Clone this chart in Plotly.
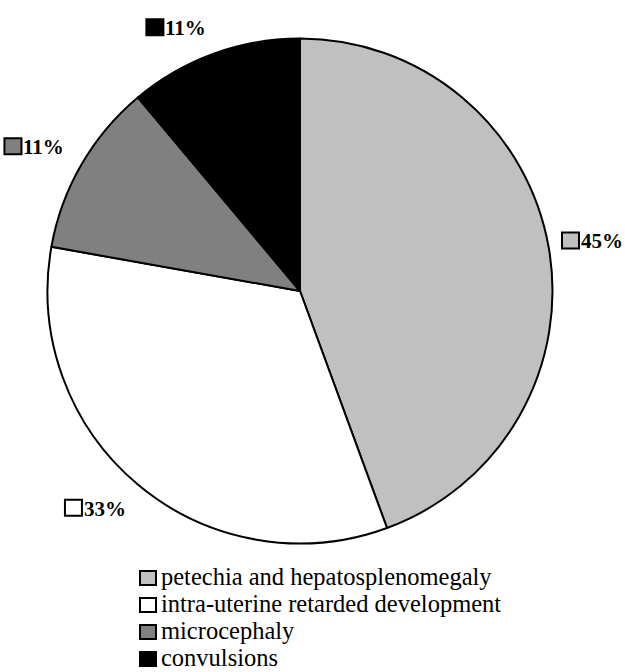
import math
import plotly.graph_objects as go

# ---- data ----
categories = ["petechia and hepatosplenomegaly",
              "intra-uterine retarded development",
              "microcephaly",
              "convulsions"]
values = [44.4, 33.4, 11.1, 11.1]          # slice sizes
label_texts = ["45%", "33%", "11%", "11%"]  # percentages as printed
colors = ["#C0C0C0", "#FFFFFF", "#808080", "#000000"]

W, H = 625, 672
CX, CY, R = 300, 291, 252.5   # pie centre / radius in px

def px(x):
    return x / W

def py(y):
    return 1 - y / H

FONT = "Liberation Serif"

fig = go.Figure()
fig.add_trace(go.Pie(
    labels=categories,
    values=values,
    sort=False,
    direction="clockwise",
    rotation=0,
    marker=dict(colors=colors, line=dict(color="#000000", width=2)),
    textinfo="none",
    hoverinfo="skip",
    showlegend=False,
    domain=dict(x=[px(CX - R), px(CX + R)], y=[py(CY + R), py(CY - R)]),
))

shapes = []
annotations = []

# ---- outside percentage labels: box corner anchored on the slice mid-angle ----
total = sum(values)
cum = 0.0
LW, LH = 61, 18
SQ_W, SQ_H = 17, 16
RT = 271
for v, txt, col in zip(values, label_texts, colors):
    mid = (cum + v / 2) / total * 2 * math.pi
    cum += v
    ux, uy = math.sin(mid), -math.cos(mid)
    fy = min(1.0, 2 * abs(uy))
    lx = CX + RT * ux + math.copysign(LW / 2, ux)
    ly = CY + RT * uy + math.copysign(LH / 2, uy) * fy
    # keep the label inside the chart area
    lx = min(max(lx, LW / 2 + 2), W - LW / 2 - 2)
    ly = min(max(ly, LH / 2 + 4), H - LH / 2 - 4)
    left = lx - LW / 2
    shapes.append(dict(type="rect", xref="paper", yref="paper",
                       x0=px(left), x1=px(left + SQ_W),
                       y0=py(ly + SQ_H / 2), y1=py(ly - SQ_H / 2),
                       fillcolor=col, line=dict(color="#000000", width=2)))
    annotations.append(dict(text="<b>" + txt + "</b>", xref="paper", yref="paper",
                            x=px(left + SQ_W + 1), y=py(ly + 1),
                            xanchor="left", yanchor="middle", showarrow=False,
                            borderpad=0,
                            font=dict(family=FONT, size=21, color="#000000")))

# ---- legend (drawn manually, squares adjacent to text) ----
LEG_X = 140
LEG_Y0 = 578
LEG_DY = 27
for i, (name, col) in enumerate(zip(categories, colors)):
    yc = LEG_Y0 + i * LEG_DY
    shapes.append(dict(type="rect", xref="paper", yref="paper",
                       x0=px(LEG_X), x1=px(LEG_X + 16),
                       y0=py(yc + 7), y1=py(yc - 7),
                       fillcolor=col, line=dict(color="#000000", width=2)))
    annotations.append(dict(text=name, xref="paper", yref="paper",
                            x=px(LEG_X + 20), y=py(yc - 2),
                            xanchor="left", yanchor="middle", showarrow=False,
                            borderpad=0,
                            font=dict(family=FONT, size=24.5, color="#000000")))

fig.update_layout(
    width=W, height=H,
    margin=dict(l=0, r=0, t=0, b=0),
    paper_bgcolor="#FFFFFF",
    plot_bgcolor="#FFFFFF",
    shapes=shapes,
    annotations=annotations,
    showlegend=False,
)

fig.write_html("out.html")
